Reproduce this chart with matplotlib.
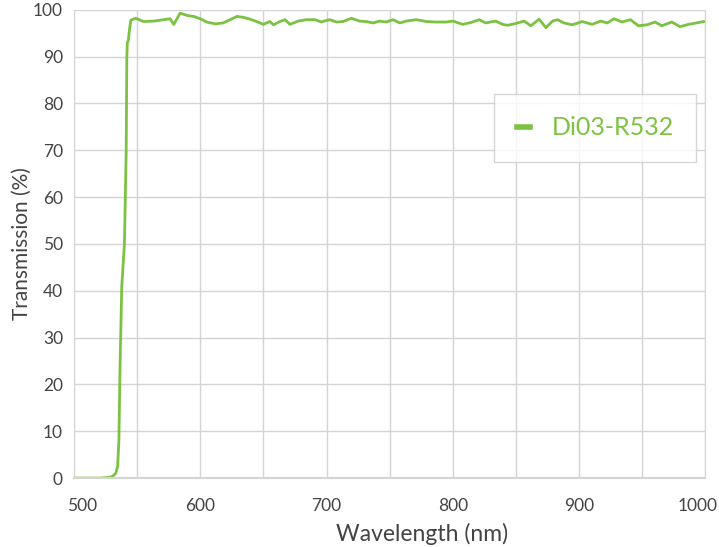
import matplotlib.pyplot as plt
from matplotlib.transforms import ScaledTranslation

plt.rcParams['font.family'] = ['Lato', 'DejaVu Sans']

# values
wavelength = [500, 510, 520, 526, 529, 531, 533, 534.5, 535.5, 536.5, 537.8, 538.5, 539.9,
              540.6, 541.3, 541.8, 542.2, 543, 544, 545, 548.8, 555, 563, 571, 576, 579, 584,
              589.5, 594.7, 600, 605, 612, 618, 623.7, 629, 634, 639.5, 644.7, 650,
              655, 658, 663, 667, 671, 677.6, 684, 690.8, 696, 698, 702.6, 707.9,
              713, 719.7, 726, 731.5, 736.8, 742, 747.4, 752.6, 758, 763, 771, 779,
              786.8, 794.7, 800, 807.8, 814.4, 821, 826, 834, 839.4, 843.3, 850,
              856.5, 861.8, 868.4, 873.7, 879, 883, 888, 894.6, 902.5, 910.4, 917,
              922.3, 927.6, 934, 940.7, 947, 953.7, 960.3, 965.5, 973.4, 980, 986.6,
              993, 998.5, 1000]
transmission = [0, 0, 0, 0.1, 0.2, 0.5, 1, 2.5, 8, 25, 41, 44, 50,
                60, 70, 90, 93, 93.5, 96, 97.8, 98.2, 97.5, 97.6, 97.9, 98.1, 96.9, 99.3,
                98.8, 98.6, 98.1, 97.4, 97.0, 97.2, 97.9, 98.6, 98.4, 98.0, 97.5, 96.9,
                97.5, 96.8, 97.5, 97.9, 96.9, 97.6, 97.9, 97.9, 97.4, 97.6, 97.9, 97.4,
                97.5, 98.2, 97.6, 97.5, 97.2, 97.6, 97.4, 97.9, 97.2, 97.6, 97.9, 97.5,
                97.4, 97.4, 97.6, 96.9, 97.3, 97.9, 97.2, 97.6, 96.9, 96.7, 97.1,
                97.6, 96.6, 98.0, 96.2, 97.6, 97.9, 97.2, 96.8, 97.5, 96.9, 97.6,
                97.2, 98.1, 97.4, 97.9, 96.6, 96.8, 97.4, 96.6, 97.4, 96.4, 96.9,
                97.2, 97.5, 97.5]
label = 'Di03-R532'
green = '#7cc242'

fig = plt.figure(figsize=(7.19, 5.47), dpi=100)
ax = fig.add_axes([0.103, 0.126, 0.878, 0.856])

ax.plot(wavelength, transmission, color=green, lw=2, label=label)

ax.set_xlim(500, 1000)
ax.set_ylim(0, 100)
ax.set_xticks(range(500, 1001, 100))
ax.set_xticks(range(550, 1000, 100), minor=True)
ax.set_yticks(range(0, 101, 10))
ax.grid(True, which='both', color='#d4d4d4', lw=1)
ax.set_axisbelow(True)
ax.tick_params(which='both', length=0, labelsize=12.5, colors='#444444')
ax.tick_params(axis='x', pad=14)
ax.tick_params(axis='y', pad=8)
for s in ax.spines.values():
    s.set_color('#d4d4d4')
ax.spines['top'].set_visible(False)
ax.spines['bottom'].set_linewidth(1.5)

# end labels sit a little inside the plot edges
xlabels = ax.get_xticklabels()
xlabels[0].set_transform(xlabels[0].get_transform() + ScaledTranslation(8 / 100, 0, fig.dpi_scale_trans))
xlabels[-1].set_transform(xlabels[-1].get_transform() + ScaledTranslation(-8 / 100, 0, fig.dpi_scale_trans))

ax.set_xlabel('Wavelength (nm)', fontsize=16.5, color='#444444', labelpad=8)
ax.xaxis.set_label_coords(0.551, -0.095)
ax.set_ylabel('Transmission (%)', fontsize=15, color='#444444', labelpad=1)

leg = ax.legend(loc='upper left', bbox_to_anchor=(0.6656, 0.8205), borderaxespad=0,
                fontsize=18, frameon=True, fancybox=False, handlelength=0.55,
                handletextpad=0.85, borderpad=0.9)
leg.get_frame().set_edgecolor('#cccccc')
leg.get_frame().set_linewidth(1)
for h in leg.get_lines():
    h.set_linewidth(4)
for t in leg.get_texts():
    t.set_color(green)

fig.savefig('out.png')
